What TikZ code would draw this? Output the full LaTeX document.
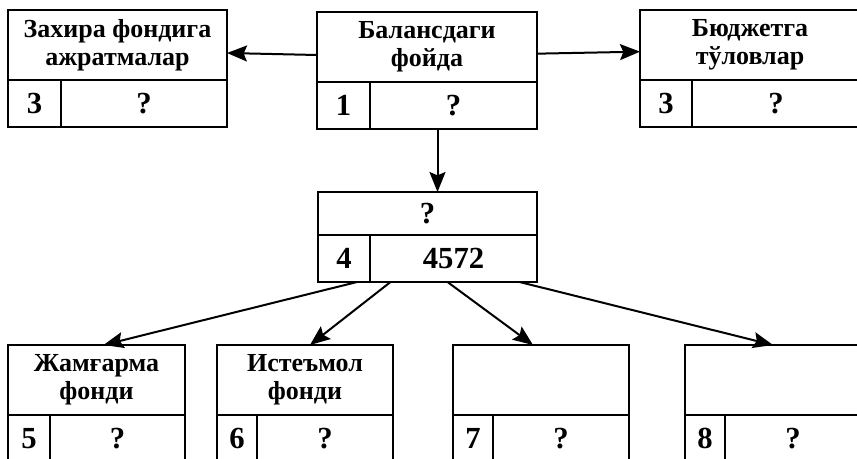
\documentclass[tikz,border=0pt]{standalone}
\usepackage{fontspec}
\setmainfont{Liberation Serif}
\usetikzlibrary{arrows.meta}
\begin{document}
\begin{tikzpicture}[x=0.75pt, y=-0.75pt]
% scheme laid out on the pixel grid of the scan, origin at top left
\def\px{0.75pt}
\providecommand{\schemeLineWidth}{1.9pt}
\providecommand{\schemeArrowWidth}{1.5pt}
\tikzset{
  cell/.style={draw, line width=\schemeLineWidth, outer sep=0pt, inner sep=0pt,
    align=center, anchor=north west, font=\bfseries\fontsize{19.5}{21}\selectfont},
  titlecell/.style={cell, minimum width=#1*\px, minimum height=70*\px},
  numcell/.style={cell, minimum width=#1*\px, minimum height=47*\px,
    font=\bfseries\fontsize{23}{24}\selectfont},
  flow/.style={-{Stealth[length=15pt, width=12pt, inset=2.5pt]}, line width=\schemeArrowWidth}
}
\useasboundingbox (0,0) rectangle (857,458);
\clip (0,0) rectangle (857,458);
% Top row
\node[titlecell=219] (res) at (8,10) {Захира фондига\\ажратмалар};
\node[numcell=53] (res-n) at (res.south west) {3};
\node[numcell=166] (res-v) at (res-n.north east) {?};
\node[titlecell=220] (bal) at (317,12) {Балансдаги\\фойда};
\node[numcell=53] (bal-n) at (bal.south west) {1};
\node[numcell=167] (bal-v) at (bal-n.north east) {?};
\node[titlecell=220] (bud) at (640,10) {Бюджетга\\тўловлар};
\node[numcell=52] (bud-n) at (bud.south west) {3};
\node[numcell=168] (bud-v) at (bud-n.north east) {?};
% Middle
\node[titlecell=219, minimum height=43*\px, font=\bfseries\fontsize{23}{24}\selectfont] (fund) at (318,192) {?};
\node[numcell=52] (fund-n) at (fund.south west) {4};
\node[numcell=167] (fund-v) at (fund-n.north east) {4572};
% Bottom row
\node[titlecell=177] (acc) at (8,345) {Жамғарма\\фонди};
\node[numcell=42] (acc-n) at (acc.south west) {5};
\node[numcell=135] (acc-v) at (acc-n.north east) {?};
\node[titlecell=176] (con) at (217,345) {Истеъмол\\фонди};
\node[numcell=40] (con-n) at (con.south west) {6};
\node[numcell=136] (con-v) at (con-n.north east) {?};
\node[titlecell=176] (oth) at (453,345) {};
\node[numcell=40] (oth-n) at (oth.south west) {7};
\node[numcell=136] (oth-v) at (oth-n.north east) {?};
\node[titlecell=176] (ext) at (685,345) {};
\node[numcell=40] (ext-n) at (ext.south west) {8};
\node[numcell=136] (ext-v) at (ext-n.north east) {?};
% Connectors
\draw[flow] ([yshift=-6pt]bal.west) -- ([yshift=-6pt]res.east);
\draw[flow] ([yshift=-5pt]bal.east) -- ([yshift=-5pt]bud.west);
\draw[flow] ([xshift=-16*\px]bal-v.south) -- ([xshift=10*\px]fund.north);
\draw[flow] ([xshift=13*\px]fund-n.south) -- ([xshift=7*\px]acc.north);
\draw[flow] ([xshift=-63*\px]fund-v.south) -- ([xshift=5*\px]con.north);
\draw[flow] ([xshift=-6*\px]fund-v.south) -- ([xshift=-8*\px]oth.north);
\draw[flow] ([xshift=66*\px]fund-v.south) -- (ext.north);
\end{tikzpicture}
\end{document}
